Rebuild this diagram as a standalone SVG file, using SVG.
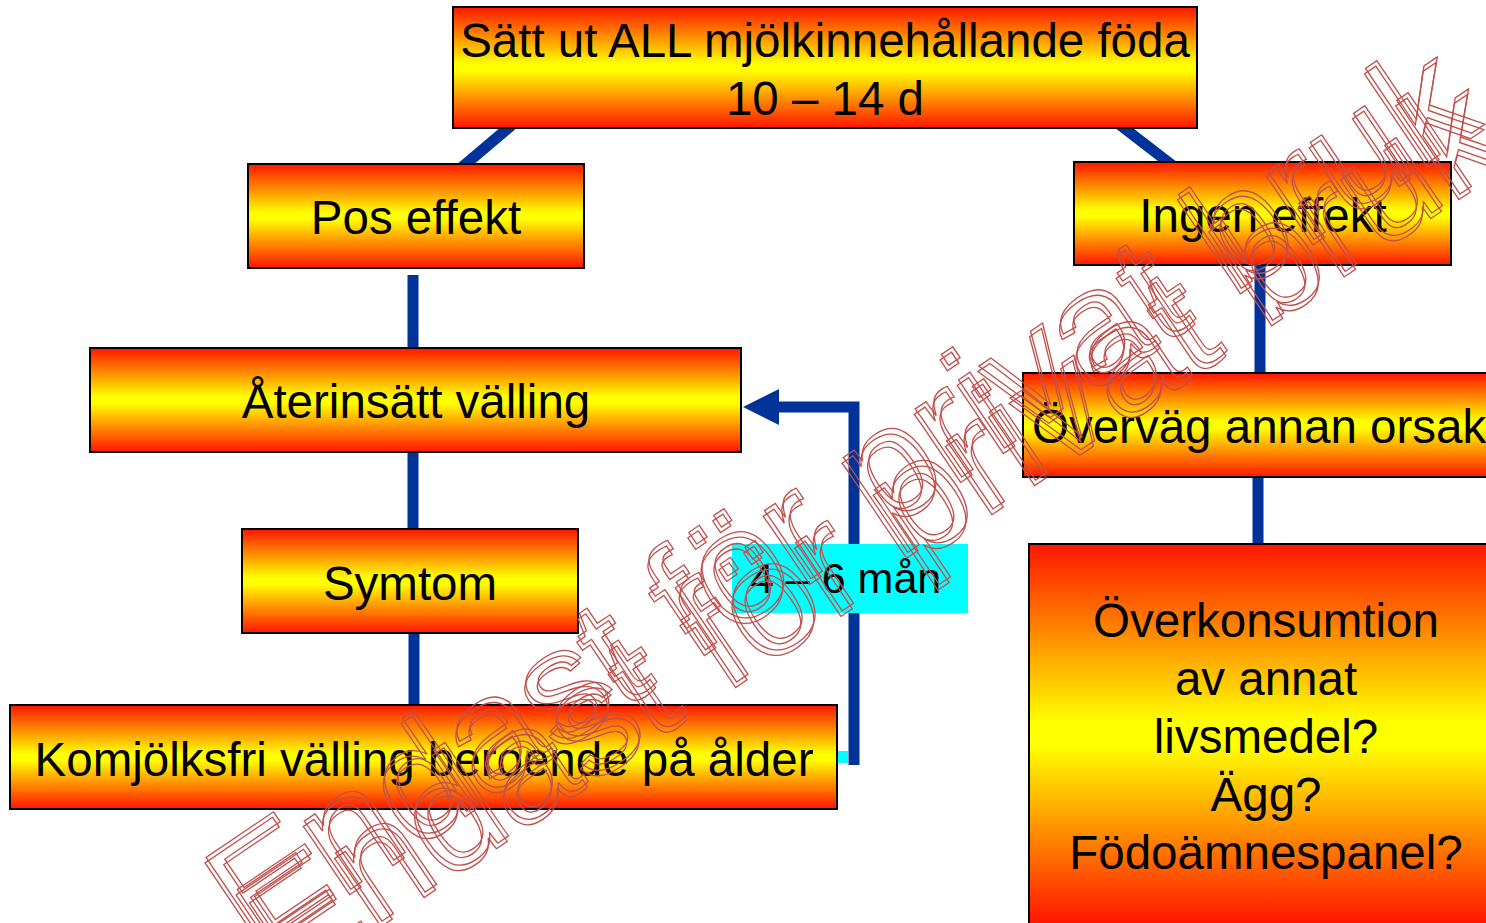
<svg xmlns="http://www.w3.org/2000/svg" width="1486" height="923" viewBox="0 0 1486 923">
<defs>
<linearGradient id="g" x1="0" y1="0" x2="0" y2="1">
<stop offset="0" stop-color="#ff1500"/>
<stop offset="0.47" stop-color="#ffff00"/>
<stop offset="0.53" stop-color="#ffff00"/>
<stop offset="1" stop-color="#ff1500"/>
</linearGradient>
</defs>
<style>
.box{fill:url(#g);stroke:#000;stroke-width:2}
.t{font-family:"Liberation Sans",Arial,sans-serif;font-size:47.5px;fill:#000;text-anchor:middle}
.c{stroke:#003399;stroke-width:11;fill:none}
.wm{font-family:"Liberation Sans",Arial,sans-serif;font-size:156px;fill:none;stroke:#c0504d;stroke-width:1.3}
</style>
<rect width="1486" height="923" fill="#fff"/>
<g id="connectors">
<line class="c" x1="454" y1="174" x2="520" y2="118"/>
<line class="c" x1="1111" y1="118" x2="1181" y2="172"/>
<line class="c" x1="413" y1="275" x2="413" y2="350"/>
<line class="c" x1="413" y1="450" x2="413" y2="531"/>
<line class="c" x1="414" y1="631" x2="414" y2="707"/>
<line class="c" x1="1260" y1="263" x2="1260" y2="375"/>
<line class="c" x1="1258" y1="475" x2="1258" y2="546"/>
<rect x="837" y="751" width="11" height="12" fill="#00ffff"/>
<path class="c" d="M854,765 V407 H776"/>
<polygon points="743,407 779,389 779,425" fill="#003399"/>
</g>
<g id="n-top"><rect class="box" x="453" y="7" width="744" height="121"/>
<text class="t" x="825" y="57">Sätt ut ALL mjölkinnehållande föda</text>
<text class="t" x="825" y="115">10 – 14 d</text></g>
<g id="n-pos"><rect class="box" x="248" y="164" width="336" height="104"/>
<text class="t" x="416" y="234">Pos effekt</text></g>
<g id="n-ater"><rect class="box" x="90" y="348" width="651" height="104"/>
<text class="t" x="416" y="418">Återinsätt välling</text></g>
<g id="n-symtom"><rect class="box" x="242" y="529" width="336" height="104"/>
<text class="t" x="410" y="600">Symtom</text></g>
<g id="n-komj"><rect class="box" x="10" y="705" width="827" height="104"/>
<text class="t" x="424" y="776">Komjölksfri välling beroende på ålder</text></g>
<g id="n-ingen"><rect class="box" x="1074" y="162" width="377" height="103"/>
<text class="t" x="1263" y="232">Ingen effekt</text></g>
<g id="n-overvag"><rect class="box" x="1023" y="373" width="480" height="104"/>
<text class="t" x="1032" y="443" style="text-anchor:start">Överväg annan orsak</text></g>
<g id="n-overkons"><rect class="box" x="1029" y="544" width="470" height="380"/>
<text class="t" x="1266" y="637">Överkonsumtion</text>
<text class="t" x="1266" y="695">av annat</text>
<text class="t" x="1266" y="753">livsmedel?</text>
<text class="t" x="1266" y="811">Ägg?</text>
<text class="t" x="1266" y="869">Födoämnespanel?</text></g>
<g id="label">
<rect x="732" y="544" width="236" height="69" fill="#00ffff"/>
<text class="t" x="750" y="593" style="text-anchor:start;font-size:43px">4 – 6 mån</text>
</g>
<g id="watermark" transform="translate(270,975) rotate(-34)">
<text class="wm" x="-4" y="-22">Endast för privat bruk</text>
<text class="wm" x="0" y="-26">Endast för privat bruk</text>
<text class="wm" x="4" y="22">Endast för privat bruk</text>
<text class="wm" x="8" y="18">Endast för privat bruk</text>
</g>
</svg>
